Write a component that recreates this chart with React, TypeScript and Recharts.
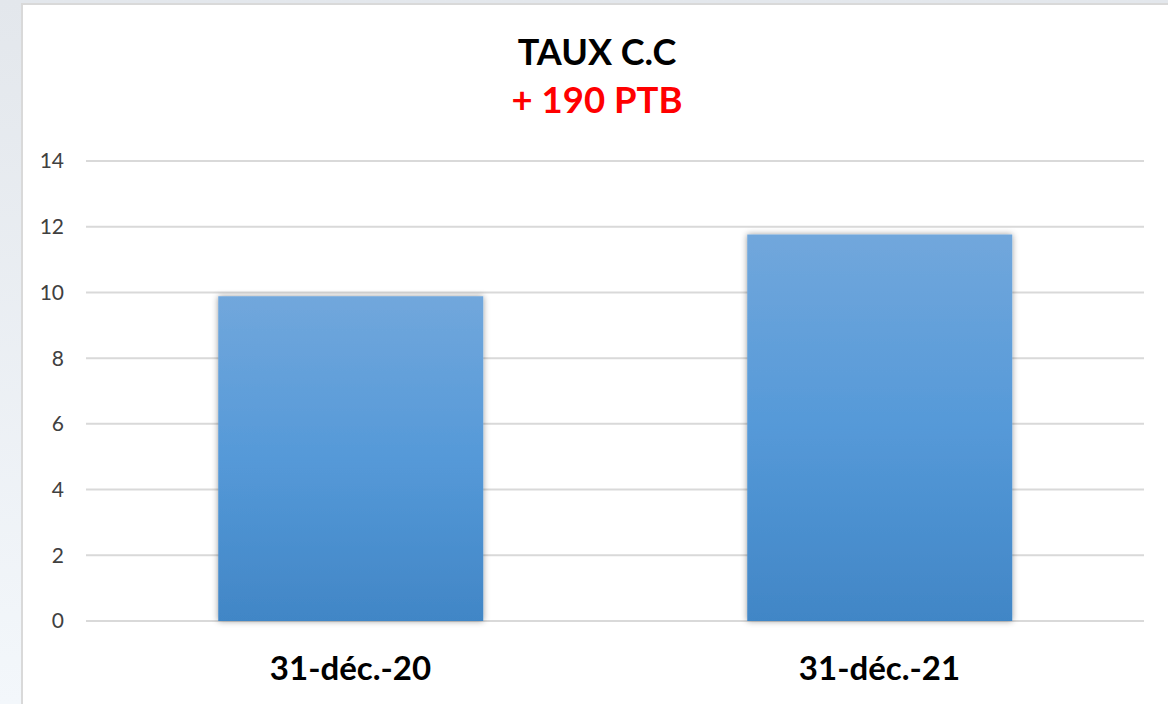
import { BarChart, Bar, XAxis, YAxis, CartesianGrid } from "recharts";

const dates = ["31-déc.-20", "31-déc.-21"];
const taux = [9.88, 11.76];
const yTicks = [0, 2, 4, 6, 8, 10, 12, 14];
const title = "TAUX C.C";
const subtitle = "+ 190 PTB";

const data = dates.map((d, i) => ({ date: d, taux: taux[i] }));

export default function App() {
  return (
    <div
      style={{
        position: "fixed",
        left: 0,
        top: 0,
        width: 1168,
        height: 704,
        background: "linear-gradient(to bottom, #e3e7ec, #f3f7fb)",
        fontFamily: "Lato, sans-serif",
      }}
    >
      <div
        style={{
          position: "absolute",
          left: 21,
          top: 3,
          width: 1168,
          height: 720,
          background: "#fff",
          border: "2px solid #d9d9d9",
        }}
      />
      <BarChart
        width={1168}
        height={704}
        data={data}
        margin={{ top: 161, right: 24, left: 0, bottom: 23 }}
        barCategoryGap="25%"
        style={{ position: "absolute", left: 0, top: 0 }}
      >
        <defs>
          <linearGradient id="barFill" x1="0" y1="0" x2="0" y2="1">
            <stop offset="0%" stopColor="#71a7dc" />
            <stop offset="50%" stopColor="#5599d8" />
            <stop offset="100%" stopColor="#4186c6" />
          </linearGradient>
          <filter id="barShadow" x="-5%" y="-5%" width="110%" height="110%">
            <feDropShadow dx="0" dy="0" stdDeviation="3" floodColor="#000" floodOpacity="0.4" />
          </filter>
        </defs>
        <CartesianGrid vertical={false} stroke="#d9d9d9" strokeWidth={2} />
        <XAxis
          dataKey="date"
          axisLine={false}
          tickLine={false}
          height={60}
          tickMargin={30}
          tick={{ fontSize: 33, fontWeight: 700, fill: "#000" }}
        />
        <YAxis
          domain={[0, 14]}
          ticks={yTicks}
          axisLine={false}
          tickLine={false}
          width={86}
          tickMargin={16}
          tick={{ fontSize: 21, fill: "#404040" }}
        />
        <Bar
          dataKey="taux"
          fill="url(#barFill)"
          filter="url(#barShadow)"
          isAnimationActive={false}
        />
      </BarChart>
      <svg
        width={1168}
        height={140}
        style={{ position: "absolute", left: 0, top: 0, pointerEvents: "none" }}
      >
        <text x={597} y={65} textAnchor="middle" fontSize={36} fontWeight={700} fill="#000">
          {title}
        </text>
        <text x={597} y={113} textAnchor="middle" fontSize={36.5} fontWeight={700} fill="#ff0000">
          {subtitle}
        </text>
      </svg>
    </div>
  );
}
